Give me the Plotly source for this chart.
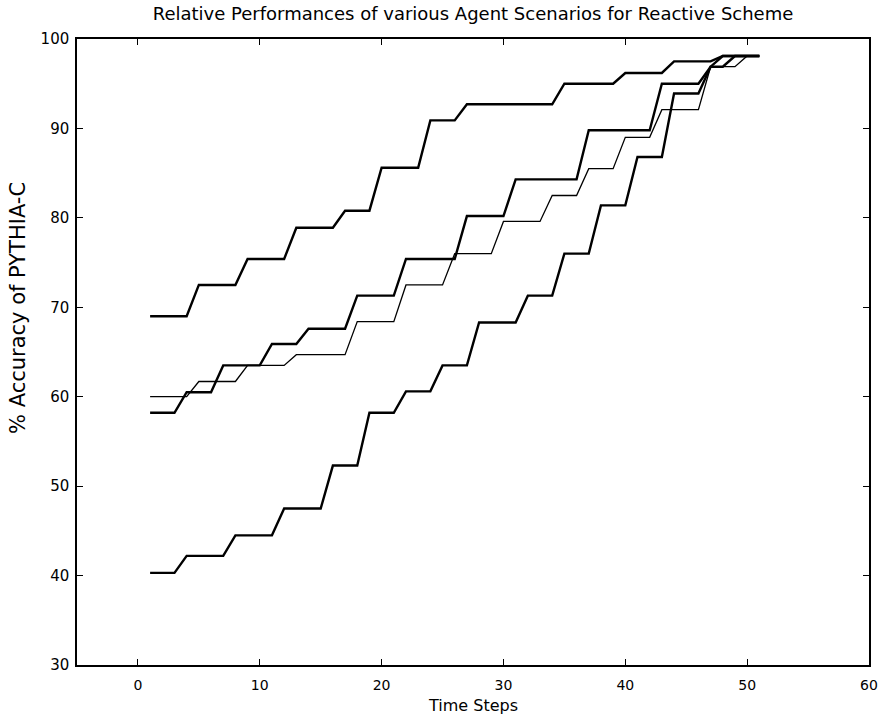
import plotly.graph_objects as go

time_steps = list(range(1, 52))

# Scenario curves (% accuracy), one value per time step 1..51
scenario_top = [69.0, 69.0, 69.0, 69.0, 72.5, 72.5, 72.5, 72.5, 75.4, 75.4,
                75.4, 75.4, 78.9, 78.9, 78.9, 78.9, 80.8, 80.8, 80.8, 85.6,
                85.6, 85.6, 85.6, 90.9, 90.9, 90.9, 92.7, 92.7, 92.7, 92.7,
                92.7, 92.7, 92.7, 92.7, 95.0, 95.0, 95.0, 95.0, 95.0, 96.2,
                96.2, 96.2, 96.2, 97.5, 97.5, 97.5, 97.5, 98.1, 98.1, 98.1, 98.1]

scenario_58 = [58.2, 58.2, 58.2, 60.5, 60.5, 60.5, 63.5, 63.5, 63.5, 63.5,
               65.9, 65.9, 65.9, 67.6, 67.6, 67.6, 67.6, 71.3, 71.3, 71.3,
               71.3, 75.4, 75.4, 75.4, 75.4, 75.4, 80.2, 80.2, 80.2, 80.2,
               84.3, 84.3, 84.3, 84.3, 84.3, 84.3, 89.8, 89.8, 89.8, 89.8,
               89.8, 89.8, 95.0, 95.0, 95.0, 95.0, 96.9, 98.1, 98.1, 98.1, 98.1]

scenario_60 = [60.0, 60.0, 60.0, 60.0, 61.7, 61.7, 61.7, 61.7, 63.5, 63.5,
               63.5, 63.5, 64.7, 64.7, 64.7, 64.7, 64.7, 68.4, 68.4, 68.4,
               68.4, 72.5, 72.5, 72.5, 72.5, 76.0, 76.0, 76.0, 76.0, 79.6,
               79.6, 79.6, 79.6, 82.5, 82.5, 82.5, 85.5, 85.5, 85.5, 89.0,
               89.0, 89.0, 92.1, 92.1, 92.1, 92.1, 96.9, 96.9, 96.9, 98.1, 98.1]

scenario_40 = [40.3, 40.3, 40.3, 42.2, 42.2, 42.2, 42.2, 44.5, 44.5, 44.5,
               44.5, 47.5, 47.5, 47.5, 47.5, 52.3, 52.3, 52.3, 58.2, 58.2,
               58.2, 60.6, 60.6, 60.6, 63.5, 63.5, 63.5, 68.3, 68.3, 68.3,
               68.3, 71.3, 71.3, 71.3, 76.0, 76.0, 76.0, 81.4, 81.4, 81.4,
               86.8, 86.8, 86.8, 93.9, 93.9, 93.9, 96.9, 96.9, 98.1, 98.1, 98.1]

x_ticks = [0, 10, 20, 30, 40, 50, 60]
y_ticks = [30, 40, 50, 60, 70, 80, 90, 100]

FONT = "DejaVu Sans, Verdana, sans-serif"

fig = go.Figure()
series = [
    (scenario_60, 1.3),
    (scenario_40, 2.4),
    (scenario_58, 2.4),
    (scenario_top, 2.4),
]
for ys, w in series:
    fig.add_trace(go.Scatter(x=time_steps, y=ys, mode="lines",
                             line=dict(color="black", width=w),
                             showlegend=False, hoverinfo="skip"))

axis_common = dict(
    showline=True, linecolor="black", linewidth=1.5, mirror="allticks",
    ticks="inside", ticklen=6, tickwidth=1.3, tickcolor="black",
    showgrid=False, zeroline=False, automargin=False,
    ticklabeloverflow="allow",
)

fig.update_layout(
    width=879, height=717,
    paper_bgcolor="white", plot_bgcolor="white",
    margin=dict(l=77, r=10, t=39, b=52),
    title=dict(text="Relative Performances of various Agent Scenarios for Reactive Scheme",
               x=0.5, xref="paper", xanchor="center",
               y=1 - 14 / 717, yref="container", yanchor="middle",
               font=dict(family=FONT, size=18, color="black")),
    xaxis=dict(range=[-5, 60], tickvals=x_ticks, ticktext=[str(v) for v in x_ticks],
               ticklabelstandoff=6, tickfont=dict(family=FONT, size=14, color="black"),
               **axis_common),
    yaxis=dict(range=[30, 100], tickvals=y_ticks, ticktext=[str(v) for v in y_ticks],
               ticklabelstandoff=3, tickfont=dict(family=FONT, size=15, color="black"),
               **axis_common),
    annotations=[
        dict(text="Time Steps", xref="paper", yref="paper", x=0.5, y=-41 / 626,
             xanchor="center", yanchor="middle", showarrow=False,
             font=dict(family=FONT, size=16, color="black")),
        dict(text="% Accuracy of PYTHIA-C", xref="paper", yref="paper",
             x=-59 / 792, y=1 - (308 - 39) / 626, textangle=-90,
             xanchor="center", yanchor="middle", showarrow=False,
             font=dict(family=FONT, size=21, color="black")),
    ],
)

fig.write_html("out.html", config={"displayModeBar": False},
               post_script="document.body.style.margin='0';")
